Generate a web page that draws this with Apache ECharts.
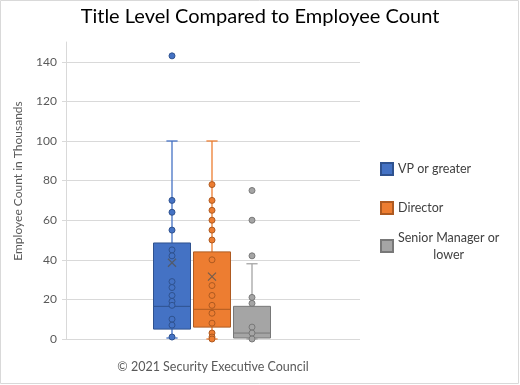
<!DOCTYPE html>
<html><head><meta charset="utf-8">
<script src="https://cdn.jsdelivr.net/npm/echarts@6/dist/echarts.min.js"></script>
<style>html,body{margin:0;padding:0;background:#fff}#c{width:520px;height:385px}</style>
</head><body><div id="c"></div>
<script>
// ---- data ----
const categories = ['VP or greater', 'Director', 'Senior Manager or lower'];
const boxMin = [0.5, 0, 0];
const boxQ1 = [5, 6, 0.5];
const boxMedian = [16.5, 15, 3];
const boxQ3 = [48.5, 44, 16.5];
const boxMax = [100, 100, 38];
const meanValues = [38.5, 31.5, null];
const vpPoints = [143, 70, 64, 55, 45, 42, 29, 26, 22, 19, 17, 10, 7, 1];
const directorPoints = [78, 70, 65, 60, 55, 50, 40, 27, 22, 17, 13, 8, 3, 1, 0];
const seniorPoints = [75, 60, 42, 21, 18, 6, 3, 0];
const yTickLabels = ['0', '20', '40', '60', '80', '100', '120', '140'];

// ---- style ----
const FONT = 'Lato';
const fills = ['#4472C4', '#ED7D31', '#A5A5A5'];
const borders = ['#2F528F', '#AE5A21', '#787878'];
const legendTops = [162, 201, 231];
const pointSets = [vpPoints, directorPoints, seniorPoints];

const boxData = categories.map((c, i) => [i, boxMin[i], boxQ1[i], boxMedian[i], boxQ3[i], boxMax[i]]);

const chart = echarts.init(document.getElementById('c'), null, {renderer: 'canvas'});

const series = [{
  type: 'custom',
  name: 'box',
  data: boxData,
  encode: {x: 0, y: [1, 2, 3, 4, 5]},
  z: 2,
  renderItem: function (params, api) {
    const i = api.value(0);
    const x = api.coord([i, 0])[0];
    const band = api.size([1, 0])[0];
    const w = band * 0.925, cw = band * 0.28;
    const yMin = api.coord([i, api.value(1)])[1];
    const yQ1 = api.coord([i, api.value(2)])[1];
    const yMed = api.coord([i, api.value(3)])[1];
    const yQ3 = api.coord([i, api.value(4)])[1];
    const yMax = api.coord([i, api.value(5)])[1];
    const wl = {stroke: fills[i], lineWidth: 1.3};
    return {type: 'group', children: [
      {type: 'line', shape: {x1: x, y1: yMax, x2: x, y2: yQ3}, style: wl},
      {type: 'line', shape: {x1: x - cw / 2, y1: yMax, x2: x + cw / 2, y2: yMax}, style: wl},
      {type: 'line', shape: {x1: x, y1: yMin, x2: x, y2: yQ1}, style: wl},
      {type: 'line', shape: {x1: x - cw / 2, y1: yMin, x2: x + cw / 2, y2: yMin}, style: wl},
      {type: 'rect', shape: {x: x - w / 2, y: yQ3, width: w, height: yQ1 - yQ3}, style: {fill: fills[i], stroke: borders[i], lineWidth: 1}},
      {type: 'line', shape: {x1: x - w / 2, y1: yMed, x2: x + w / 2, y2: yMed}, style: {stroke: borders[i], lineWidth: 1}}
    ]};
  }
}];
categories.forEach((name, i) => {
  series.push({
    type: 'scatter', name: name, z: 3,
    data: pointSets[i].map(v => [i, v]),
    symbol: 'circle', symbolSize: 6,
    itemStyle: {color: fills[i], borderColor: borders[i], borderWidth: 1, opacity: 1}
  });
});
series.push({
  type: 'scatter', name: 'mean', z: 4,
  data: meanValues.map((v, i) => v == null ? null : [i, v]).filter(d => d),
  symbol: 'path://M0,0L10,10M10,0L0,10', symbolSize: 8,
  itemStyle: {color: 'transparent', borderColor: '#555', borderWidth: 1.2, opacity: 0.8}
});

const option = {
  animation: false,
  title: {
    text: 'Title Level Compared to Employee Count',
    left: 'center', top: 7, padding: 0,
    textStyle: {fontFamily: FONT, fontSize: 20, fontWeight: 'normal', color: '#000'}
  },
  grid: {left: 66, right: 160, top: 42, bottom: 46, containLabel: false},
  xAxis: {type: 'value', min: -2.65, max: 4.7, show: false},
  yAxis: {
    type: 'value', min: 0, max: 150, interval: 20,
    axisLine: {show: true, onZero: false, lineStyle: {color: '#d9d9d9'}},
    axisTick: {show: true, length: 4, lineStyle: {color: '#d9d9d9'}},
    axisLabel: {color: '#595959', fontFamily: FONT, fontSize: 12, margin: 9, showMaxLabel: false,
      formatter: v => yTickLabels[Math.round(v / 20)] || ''},
    splitLine: {show: true, showMaxLine: false, lineStyle: {color: '#d9d9d9'}}
  },
  legend: categories.map((name, i) => ({
    data: [name], orient: 'vertical', left: 380, top: legendTops[i], padding: 0,
    icon: 'rect', itemWidth: 12, itemHeight: 12, selectedMode: false,
    formatter: n => n === 'Senior Manager or lower' ? '{a|Senior Manager or}\n{b|lower}' : n,
    textStyle: {color: '#404040', fontFamily: FONT, fontSize: 12.5,
      rich: {a: {fontFamily: FONT, fontSize: 12.5, color: '#404040', lineHeight: 17},
             b: {fontFamily: FONT, fontSize: 12.5, color: '#404040', lineHeight: 17, align: 'center'}}}
  })),
  graphic: [
    {type: 'rect', shape: {x: 0.5, y: 0.5, width: 518, height: 383}, style: {fill: 'none', stroke: '#d9d9d9', lineWidth: 1}, silent: true, z: -1},
    {type: 'text', x: 18, y: 181, rotation: Math.PI / 2,
      style: {text: 'Employee Count in Thousands', fontFamily: FONT, fontSize: 12, fill: '#595959', align: 'center', verticalAlign: 'middle'}},
    {type: 'text', x: 213, y: 367,
      style: {text: '\u00A9 2021 Security Executive Council', fontFamily: FONT, fontSize: 12.5, fill: '#595959', align: 'center', verticalAlign: 'middle'}}
  ],
  series: series
};
chart.setOption(option);
</script></body></html>
